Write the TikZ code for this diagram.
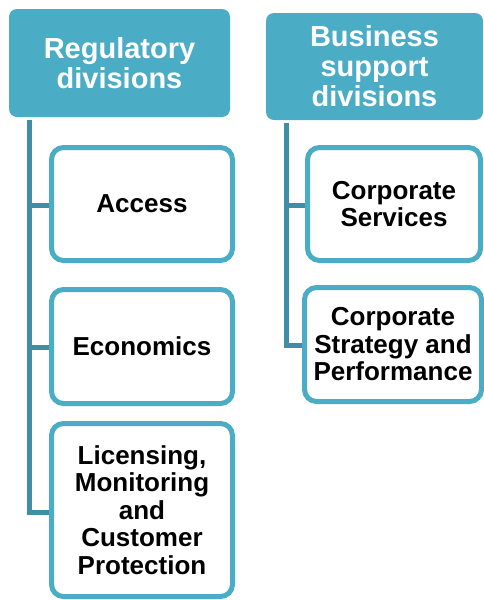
\documentclass[tikz,border=0pt]{standalone}
\usepackage{fontspec}
\setmainfont{Liberation Sans}
\definecolor{headfill}{HTML}{4BACC6}
\definecolor{boxedge}{HTML}{4BACC6}
\definecolor{spine}{HTML}{3F8EA6}
\tikzset{
  header/.style={fill=headfill, draw=none, rounded corners=8pt, inner sep=0pt,
    align=center, text=white, font=\bfseries\fontsize{29}{30}\selectfont},
  division/.style={fill=white, draw=boxedge, line width=5pt, rounded corners=12pt,
    inner sep=0pt, align=center, text=black, font=\bfseries\fontsize{26}{27.5}\selectfont},
  conn/.style={draw=spine, line width=5pt, line join=miter}
}
\begin{document}
\begin{tikzpicture}[x=1pt,y=-1pt]
  \useasboundingbox (0,0) rectangle (484,600);

  % column headers
  \node[header, minimum width=221pt, minimum height=108pt] (reg) at (119.5,63)
    {Regulatory\\divisions};
  \node[header, minimum width=217pt, minimum height=107pt] (bus) at (374.5,66.5)
    {Business\\support\\divisions};

  % spines below each header
  \coordinate (regtop) at (29,120);
  \coordinate (bustop) at (286,123);

  % connectors (drawn first so the boxes sit on top)
  \coordinate (accpt) at (60,205);
  \coordinate (ecopt) at (60,347);
  \coordinate (licpt) at (60,512);
  \coordinate (srvpt) at (315,205);
  \coordinate (strpt) at (315,345);
  \draw[conn] (regtop) |- (licpt);
  \draw[conn] (regtop |- accpt) -- (accpt);
  \draw[conn] (regtop |- ecopt) -- (ecopt);
  \draw[conn] (bustop) |- (strpt);
  \draw[conn] (bustop |- srvpt) -- (srvpt);

  % regulatory divisions
  \node[division, minimum width=181pt, minimum height=113pt] (acc) at (142,204)
    {Access};
  \node[division, minimum width=181pt, minimum height=114pt] (eco) at (142,346.5)
    {Economics};
  \node[division, minimum width=181pt, minimum height=173pt] (lic) at (142,510)
    {Licensing,\\Monitoring\\and\\Customer\\Protection};

  % business support divisions
  \node[division, minimum width=173pt, minimum height=113pt] (srv) at (394,204)
    {Corporate\\Services};
  \node[division, minimum width=177pt, minimum height=114pt] (str) at (393,344.5)
    {Corporate\\Strategy and\\Performance};
\end{tikzpicture}
\end{document}
